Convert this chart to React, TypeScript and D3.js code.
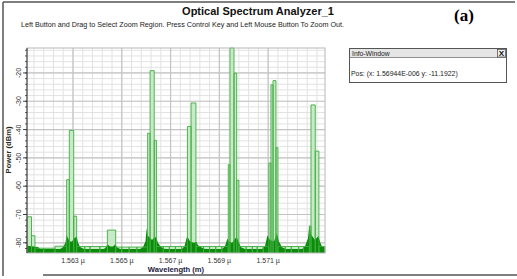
import React from "react";
import * as d3 from "d3";

// ---- data (wavelength in nm, power in dBm) ----
const stepNm = [
  1561.12, 1561.30, 1561.44, 1561.80, 1562.26, 1562.74, 1562.85, 1563.03, 1563.15, 1563.48,
  1563.70, 1564.10, 1564.41, 1564.75, 1565.00, 1565.30, 1565.62, 1566.06, 1566.16, 1566.33,
  1566.42, 1566.70, 1566.95, 1567.20, 1567.45, 1567.69, 1567.84, 1568.04, 1568.35, 1568.60,
  1568.85, 1569.10, 1569.365, 1569.435, 1569.60, 1569.71, 1569.80, 1570.10, 1570.35, 1570.55,
  1570.80, 1571.03, 1571.115, 1571.20, 1571.32, 1571.40, 1571.70, 1571.95, 1572.25, 1572.45,
  1572.69, 1572.755, 1572.93, 1573.08,
];
const stepEndNm = 1573.33;
const stepDbm = [
  -70.8, -77.5, -81.9, -81.9, -81.2, -57.7, -40.3, -70.6, -81.3, -81.3,
  -81.3, -81.3, -75.5, -81.5, -81.5, -81.5, -81.5, -41.3, -19.2, -43.8,
  -81.3, -81.3, -81.3, -81.3, -81.3, -38.9, -30.6, -81.3, -81.3, -81.3,
  -81.3, -81.3, -52.4, -11.19, -20.1, -57.9, -81.3, -81.3, -81.3, -81.3,
  -81.3, -51.8, -24.2, -22.7, -46.4, -81.3, -81.3, -81.3, -81.3, -81.3,
  -74.1, -31.3, -47.6, -81.3,
];

const noiseNm = [
  1561.12, 1561.57, 1561.65, 1562.47, 1562.59, 1562.69, 1562.74, 1562.80, 1562.88, 1562.96,
  1563.04, 1563.15, 1563.21, 1563.29, 1563.45, 1564.27, 1564.35, 1564.41, 1564.52, 1564.64,
  1564.74, 1564.80, 1564.93, 1565.75, 1565.87, 1565.97, 1566.02, 1566.07, 1566.24, 1566.36,
  1566.43, 1566.48, 1566.61, 1566.77, 1567.47, 1567.57, 1567.65, 1567.69, 1567.80, 1567.96,
  1568.06, 1568.12, 1568.25, 1568.41, 1569.11, 1569.23, 1569.33, 1569.39, 1569.52, 1569.71,
  1569.78, 1569.89, 1570.05, 1570.75, 1570.87, 1570.97, 1571.07, 1571.24, 1571.36, 1571.44,
  1571.57, 1571.73, 1572.39, 1572.51, 1572.63, 1572.69, 1572.75, 1572.92, 1573.06, 1573.14,
  1573.21, 1573.33,
];
const noiseDbm = [
  -81.0, -81.5, -82.2, -82.2, -81.6, -80.0, -77.3, -78.5, -79.5, -79.5,
  -78.5, -77.8, -80.0, -81.5, -82.2, -82.2, -81.6, -80.5, -81.3, -81.3,
  -80.5, -81.6, -82.2, -82.2, -81.5, -79.5, -74.9, -77.5, -79.0, -77.9,
  -78.5, -80.0, -81.5, -82.2, -82.2, -81.2, -78.5, -77.9, -79.5, -80.0,
  -79.6, -80.8, -81.6, -82.2, -82.2, -81.2, -78.5, -79.5, -80.0, -77.9,
  -79.5, -81.6, -82.2, -82.2, -81.2, -77.3, -79.0, -79.5, -76.7, -79.5,
  -81.6, -82.2, -82.2, -81.2, -78.5, -73.8, -77.0, -79.0, -77.6, -80.0,
  -81.3, -81.3,
];

const xDomain = [1561.115, 1573.33];
const yDomain = [-83.6, -11.19];
const xMajorTicks = [1563, 1565, 1567, 1569, 1571];
const yMajorTicks = [-80, -70, -60, -50, -40, -30, -20];

const title = "Optical Spectrum Analyzer_1";
const subtitle =
  "Left Button and Drag to Select Zoom Region. Press Control Key and Left Mouse Button To Zoom Out.";
const infoTitle = "Info-Window";
const infoText = "Pos:  (x: 1.56944E-006  y: -11.1922)";

const W = 517;
const H = 279;
const plot = { left: 27, right: 325, top: 48, bottom: 253 };
const FONT = "'Liberation Sans', Arial, sans-serif";

export default function App() {
  const x = d3.scaleLinear().domain(xDomain).range([plot.left, plot.right]);
  const y = d3.scaleLinear().domain(yDomain).range([plot.bottom, plot.top]);

  const xMinor = d3.range(1561.4, 1573.3, 0.4).map((v) => +v.toFixed(2));
  const yMinor = d3.range(-82, -11, 2);

  const noiseArea = d3
    .area<number>()
    .x((_, i) => x(noiseNm[i]))
    .y0(plot.bottom)
    .y1((d) => y(d))
    .curve(d3.curveLinear)(noiseDbm) as string;

  const bars = stepNm.map((nm, i) => {
    const end = i < stepNm.length - 1 ? stepNm[i + 1] : stepEndNm;
    return { x0: x(nm), x1: x(end), yv: y(stepDbm[i]) };
  });

  return (
    <div style={{ position: "absolute", left: 0, top: 0 }}>
      <svg width={W} height={H} style={{ display: "block", background: "#fff" }}>
        {/* outer frame */}
        <line x1={3} y1={2} x2={515} y2={2} stroke="#555" strokeWidth={1.5} />
        <line x1={3} y1={2} x2={3} y2={276} stroke="#555" strokeWidth={1.5} />
        <line x1={43} y1={275} x2={517} y2={275} stroke="#555" strokeWidth={1.5} />

        <text x={258} y={15} textAnchor="middle" fontFamily={FONT} fontWeight="bold" fontSize={11} fill="#111">
          {title}
        </text>
        <text x={21} y={26.5} fontFamily={FONT} fontSize={7.2} fill="#222">
          {subtitle}
        </text>
        <text x={464} y={20.5} textAnchor="middle" fontFamily="'Liberation Serif', 'DejaVu Serif', serif" fontWeight="bold" fontSize={17} fill="#000">
          (a)
        </text>

        {/* grid */}
        {xMinor.map((v) => (
          <line key={"xm" + v} x1={x(v)} x2={x(v)} y1={plot.top} y2={plot.bottom} stroke="#e2e2e2" strokeWidth={1} />
        ))}
        {yMinor.map((v) => (
          <line key={"ym" + v} x1={plot.left} x2={plot.right} y1={y(v)} y2={y(v)} stroke="#e2e2e2" strokeWidth={1} />
        ))}
        {xMajorTicks.map((v) => (
          <line key={"xM" + v} x1={x(v)} x2={x(v)} y1={plot.top} y2={plot.bottom} stroke="#c4c4c4" strokeWidth={1.2} />
        ))}
        {yMajorTicks.map((v) => (
          <line key={"yM" + v} x1={plot.left} x2={plot.right} y1={y(v)} y2={y(v)} stroke="#c4c4c4" strokeWidth={1.2} />
        ))}

        {/* spectrum bars fill */}
        {bars.map((b, i) => (
          <rect key={"bf" + i} x={b.x0} y={b.yv} width={Math.max(0.5, b.x1 - b.x0)} height={plot.bottom - b.yv} fill="#c8eac8" />
        ))}
        {/* noise floor */}
        <path d={noiseArea} fill="#0a8c0a" />
        {/* spectrum bars outline */}
        {bars.map((b, i) => (
          <path
            key={"bo" + i}
            d={`M${b.x0},${plot.bottom}V${b.yv}H${b.x1}V${plot.bottom}`}
            fill="none"
            stroke="#41ad41"
            strokeWidth={0.9}
          />
        ))}

        {/* plot border */}
        <rect x={plot.left} y={plot.top} width={plot.right - plot.left} height={plot.bottom - plot.top} fill="none" stroke="#b8b8b8" strokeWidth={1} />
        <line x1={plot.left} x2={plot.left} y1={plot.top} y2={plot.bottom} stroke="#333" strokeWidth={1} />

        {/* y ticks */}
        {yMinor.map((v) => (
          <line key={"yt" + v} x1={plot.left - 2} x2={plot.left} y1={y(v)} y2={y(v)} stroke="#333" strokeWidth={0.8} />
        ))}
        {yMajorTicks.map((v) => (
          <g key={"yl" + v}>
            <line x1={plot.left - 4} x2={plot.left} y1={y(v)} y2={y(v)} stroke="#333" strokeWidth={0.9} />
            <text
              transform={`translate(21,${y(v)}) rotate(-90)`}
              textAnchor="middle"
              fontFamily={FONT}
              fontSize={7}
              fill="#333"
            >
              {v}
            </text>
          </g>
        ))}
        {xMajorTicks.map((v) => (
          <text key={"xl" + v} x={x(v)} y={263} textAnchor="middle" fontFamily={FONT} fontSize={7} fill="#333">
            {(v / 1000).toFixed(3) + " µ"}
          </text>
        ))}

        <text x={176} y={272} textAnchor="middle" fontFamily={FONT} fontWeight="bold" fontSize={7.6} fill="#1c1c40">
          Wavelength (m)
        </text>
        <text transform={`translate(11,150) rotate(-90)`} textAnchor="middle" fontFamily={FONT} fontWeight="bold" fontSize={7.6} fill="#2a2a1a">
          Power (dBm)
        </text>

        {/* info window */}
        <rect x={349.5} y={48.5} width={157} height={34} fill="#fff" stroke="#555" strokeWidth={1} />
        <rect x={350} y={49} width={156} height={8.5} fill="#e6e6e6" />
        <line x1={349.5} x2={506.5} y1={57.5} y2={57.5} stroke="#777" strokeWidth={0.8} />
        <text x={352} y={55.8} fontFamily={FONT} fontSize={6.8} fill="#222">
          {infoTitle}
        </text>
        <rect x={497.5} y={49.5} width={8} height={7.5} fill="#eee" stroke="#444" strokeWidth={0.7} />
        <text x={501.5} y={56.3} textAnchor="middle" fontFamily={FONT} fontWeight="bold" fontSize={8} fill="#111">
          X
        </text>
        <text x={351} y={75.5} fontFamily={FONT} fontSize={6.9} fill="#222">
          {infoText}
        </text>
      </svg>
    </div>
  );
}
